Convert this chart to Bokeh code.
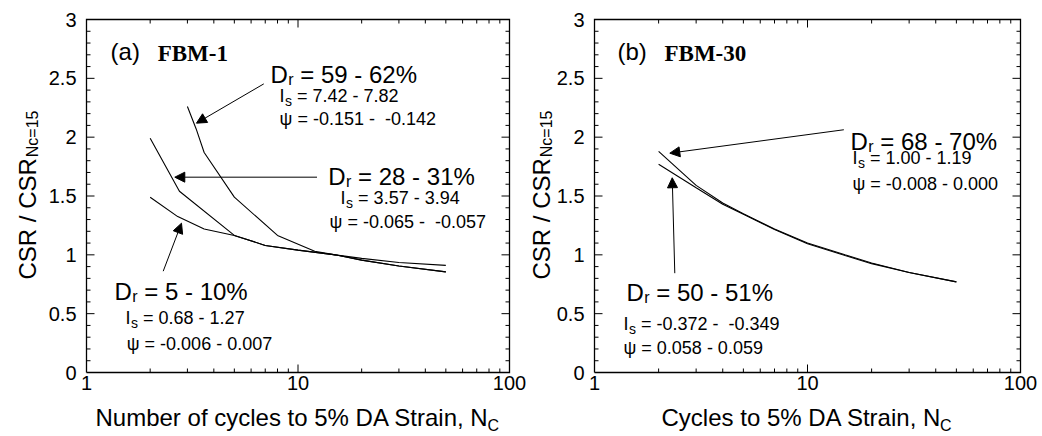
from bokeh.plotting import figure
from bokeh.layouts import row
from bokeh.models import Range1d, Label, Arrow, NormalHead
from bokeh.core.properties import value
from bokeh.embed import file_html
from bokeh.resources import INLINE

# ---------------- data ----------------
X_MAJOR = [1, 10, 100]
X_MINOR = [2, 3, 4, 5, 6, 7, 8, 9, 20, 30, 40, 50, 60, 70, 80, 90]
Y_MAJOR = [0, 0.5, 1, 1.5, 2, 2.5, 3]
Y_MINOR = [0.1, 0.2, 0.3, 0.4, 0.6, 0.7, 0.8, 0.9, 1.1, 1.2, 1.3, 1.4, 1.6, 1.7, 1.8, 1.9,
           2.1, 2.2, 2.3, 2.4, 2.6, 2.7, 2.8, 2.9]

# (a) FBM-1
n_59 = [3, 3.3, 3.6, 5, 8, 12, 15, 20, 30, 50]
csr_59 = [2.26, 2.07, 1.87, 1.49, 1.165, 1.03, 1.0, 0.97, 0.935, 0.91]
n_28 = [2, 2.75, 5, 7, 10, 15, 20, 30, 50]
csr_28 = [1.99, 1.54, 1.165, 1.08, 1.04, 1.0, 0.955, 0.905, 0.855]
n_5 = [2, 2.7, 3.6, 5, 7, 10, 15, 20, 30, 50]
csr_5 = [1.49, 1.325, 1.22, 1.165, 1.08, 1.04, 1.0, 0.955, 0.905, 0.855]

# (b) FBM-30
n_68 = [2, 3, 4, 5, 7, 10, 15, 20, 30, 50]
csr_68 = [1.88, 1.59, 1.44, 1.35, 1.22, 1.10, 1.0, 0.93, 0.85, 0.77]
n_50 = [2, 3, 4, 5, 7, 10, 15, 20, 30, 50]
csr_50 = [1.77, 1.57, 1.43, 1.345, 1.215, 1.095, 0.995, 0.925, 0.85, 0.77]

FONT = "Liberation Sans"
NB = "\u00a0"
W = {' ': .278, '%': .889, ',': .278, '-': .333, '.': .278, '/': .278, '=': .584,
     'A': .667, 'C': .722, 'D': .722, 'I': .278, 'N': .722, 'R': .722, 'S': .667,
     'a': .556, 'b': .556, 'c': .5, 'e': .556, 'f': .278, 'i': .222, 'l': .222,
     'm': .833, 'n': .556, 'o': .556, 'r': .333, 's': .5, 't': .278, 'u': .556, 'y': .5}

H = 436
TOP, FH = 19, 353          # frame top and height in pixels
UPP = 3.0 / FH             # y data units per pixel
BASE_FIX = 6               # label baseline correction (px)
SMALL = 18                 # size of the I_s / psi lines


def tw(s, size):
    return sum(W.get(ch, .556) for ch in s) * size


def lab(p, x, y, text, size, font=FONT, style="normal", xo=0, yo=0, angle=0):
    if angle == 0:
        yo += BASE_FIX
    else:
        xo -= BASE_FIX
    p.add_layout(Label(x=x, y=y, text=text, text_font=font, text_font_size=f"{size}px",
                       text_font_style=style, text_color="black", text_align="left",
                       text_baseline="alphabetic", x_offset=xo, y_offset=yo, angle=angle))


def sub_text(p, x, y, main, sub, rest, size, subsize, drop):
    lab(p, x, y, main, size)
    w1 = tw(main, size) + 0.5
    lab(p, x, y, sub, subsize, xo=w1, yo=-drop)
    lab(p, x, y, rest, size, xo=w1 + tw(sub, subsize) + tw(" ", size))


def arrow(p, x0, y0, x1, y1):
    p.add_layout(Arrow(end=NormalHead(size=10, fill_color="black", line_color="black",
                                      line_width=1),
                       x_start=x0, y_start=y0, x_end=x1, y_end=y1,
                       line_color="black", line_width=1))


def panel(width, fl, fw):
    dpp = 2.0 / fw  # decades per pixel
    p = figure(width=width, height=H, x_axis_type="log",
               x_range=Range1d(10 ** (-fl * dpp), 10 ** ((width - fl) * dpp)),
               y_range=Range1d(-(H - TOP - FH) * UPP, 3 + TOP * UPP),
               x_axis_location=None, y_axis_location=None,
               output_backend="svg", toolbar_location=None, min_border=0)
    p.grid.visible = False
    p.outline_line_color = None
    p.background_fill_color = "white"
    p.border_fill_color = "white"

    # plot box
    p.line([1, 100, 100, 1, 1], [0, 0, 3, 3, 0], line_color="black", line_width=1.3,
           line_join="miter")

    # inward ticks on all four sides
    def ticks(vals, length):
        lx = 10 ** (length * dpp)
        ly = length * UPP
        x0 = list(vals[0]) * 2
        y0 = [0] * len(vals[0]) + [3] * len(vals[0])
        y1 = [ly] * len(vals[0]) + [3 - ly] * len(vals[0])
        p.segment(x0, y0, x0, y1, line_color="black", line_width=1)
        yy = list(vals[1]) * 2
        xa = [1] * len(vals[1]) + [100] * len(vals[1])
        xb = [lx] * len(vals[1]) + [100 / lx] * len(vals[1])
        p.segment(xa, yy, xb, yy, line_color="black", line_width=1)

    ticks((X_MAJOR[1:-1], Y_MAJOR[1:-1]), 8)
    ticks((X_MINOR, Y_MINOR), 4)

    # tick labels
    p.text(x=X_MAJOR, y=[0] * len(X_MAJOR), text=["%g" % v for v in X_MAJOR],
           text_font=value(FONT), text_font_size=value("20px"), text_color="black",
           text_align="center", text_baseline="top", y_offset=3)
    p.text(x=[1] * len(Y_MAJOR), y=Y_MAJOR, text=["%g" % v for v in Y_MAJOR],
           text_font=value(FONT), text_font_size=value("20px"), text_color="black",
           text_align="right", text_baseline="middle", x_offset=-10)
    return p


def ytitle(p, x):
    main = "CSR / CSR"
    lab(p, x, 0.79, main, 24, angle=1.5707963)
    lab(p, x, 0.79, "Nc=15", 16, angle=1.5707963, xo=5, yo=tw(main, 24) + 1)


def xtitle(p, x, main):
    lab(p, x, -0.433, main, 24)
    lab(p, x, -0.433, "C", 16, xo=tw(main, 24) - 1.5, yo=-8)


# ---------------- panel (a) ----------------
p1 = panel(528, 86, 423)
p1.line(n_59, csr_59, line_color="black", line_width=1.1)
p1.line(n_28, csr_28, line_color="black", line_width=1.1)
p1.line(n_5, csr_5, line_color="black", line_width=1.1)

lab(p1, 1.30, 2.68, "(a)", 24)
lab(p1, 2.17, 2.66, "FBM-1", 23, font="Liberation Serif", style="bold")
sub_text(p1, 7.41, 2.48, "D", "r", "= 59 - 62%", 24, 16, 5)
sub_text(p1, 8.18, 2.30, "I", "s", "= 7.42 - 7.82", SMALL, 14, 5)
lab(p1, 8.18, 2.10, "ψ = -0.151 -" + NB + " -0.142", SMALL)
sub_text(p1, 13.9, 1.615, "D", "r", "= 28 - 31%", 24, 16, 5)
sub_text(p1, 15.9, 1.43, "I", "s", "= 3.57 - 3.94", SMALL, 14, 5)
lab(p1, 14.1, 1.225, "ψ = -0.065 -" + NB + " -0.057", SMALL)
sub_text(p1, 1.356, 0.637, "D", "r", "= 5 - 10%", 24, 16, 5)
sub_text(p1, 1.53, 0.408, "I", "s", "= 0.68 - 1.27", SMALL, 14, 5)
lab(p1, 1.55, 0.195, "ψ = -0.006 - 0.007", SMALL)
arrow(p1, 6.89, 2.453, 3.31, 2.119)
arrow(p1, 12.3, 1.66, 2.615, 1.66)
arrow(p1, 2.305, 0.861, 2.813, 1.269)

ytitle(p1, 0.5617)
xtitle(p1, 1.103, "Number of cycles to 5% DA Strain, N")

# ---------------- panel (b) ----------------
p2 = panel(514, 66, 426)
p2.line(n_68, csr_68, line_color="black", line_width=1.1)
p2.line(n_50, csr_50, line_color="black", line_width=1.1)

lab(p2, 1.282, 2.68, "(b)", 24)
lab(p2, 2.131, 2.66, "FBM-30", 23, font="Liberation Serif", style="bold")
sub_text(p2, 15.92, 1.912, "D", "r", "= 68 - 70%", 24, 16, 5)
sub_text(p2, 16.27, 1.768, "I", "s", "= 1.00 - 1.19", SMALL, 14, 5)
lab(p2, 16.27, 1.555, "ψ = -0.008 - 0.000", SMALL)
sub_text(p2, 1.413, 0.629, "D", "r", "= 50 - 51%", 24, 16, 5)
sub_text(p2, 1.368, 0.365, "I", "s", "= -0.372 -" + NB + " -0.349", SMALL, 14, 5)
lab(p2, 1.368, 0.161, "ψ = 0.058 - 0.059", SMALL)
arrow(p2, 14.81, 2.063, 2.257, 1.864)
arrow(p2, 2.382, 0.844, 2.317, 1.655)

ytitle(p2, 0.6)
xtitle(p2, 2.064, "Cycles to 5% DA Strain, N")

layout = row(p1, p2)
open("out.html", "w").write(file_html(layout, INLINE))
